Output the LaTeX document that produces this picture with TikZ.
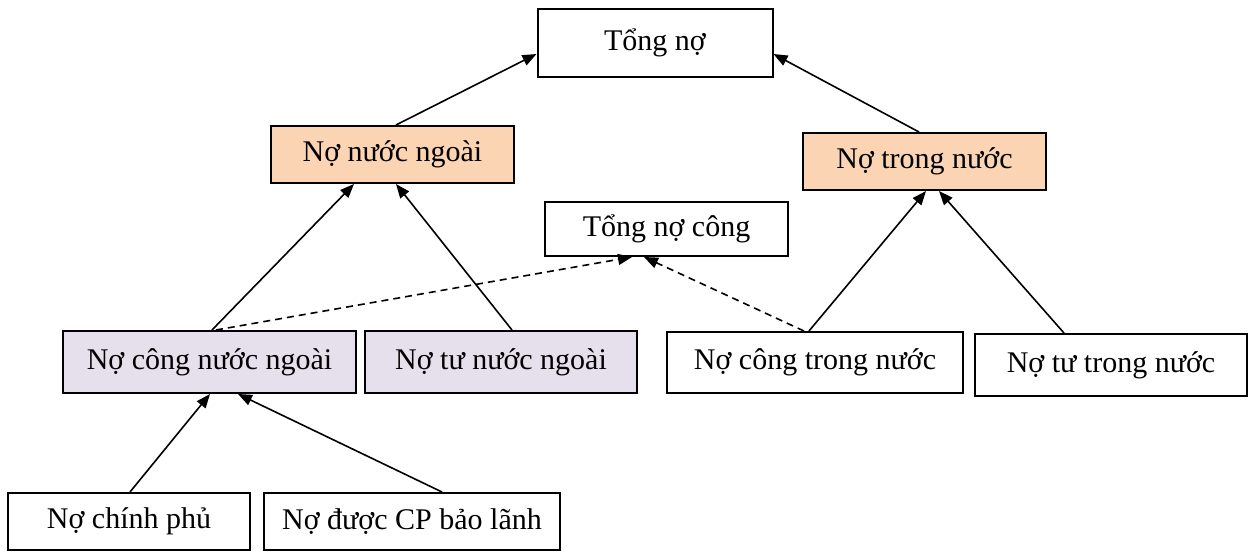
\documentclass[tikz,border=0pt]{standalone}
\usepackage{fontspec}
\setmainfont{Liberation Serif}
\usetikzlibrary{calc,arrows.meta}
\definecolor{orangefill}{HTML}{FBD4B4}
\definecolor{lavfill}{HTML}{E5E0EC}
\tikzset{
  box/.style={draw=black, line width=1pt, rectangle, inner sep=0pt, align=center,
              font=\fontsize{15}{18}\selectfont},
  arr/.style={line width=0.8pt, -{Triangle[length=7pt,width=5.5pt]}},
  darr/.style={arr, dash pattern=on 3.5pt off 2.5pt},
}
\begin{document}
\begin{tikzpicture}[x=0.5pt,y=-0.5pt]
\useasboundingbox (0,0) rectangle (1249,552);
\node[box, minimum width=117.5pt, minimum height=34pt] (tn) at (655,43) {Tổng nợ};
\node[box, fill=orangefill, minimum width=121.5pt, minimum height=28.5pt] (nnn) at (392.5,154.5) {Nợ nước ngoài};
\node[box, fill=orangefill, minimum width=121.5pt, minimum height=28.5pt] (ntn) at (924.5,161.5) {Nợ trong nước};
\node[box, minimum width=121.5pt, minimum height=27pt] (tnc) at (666.5,229) {Tổng nợ công};
\node[box, fill=lavfill, minimum width=146.5pt, minimum height=31pt] (ncnn) at (209.5,362) {Nợ công nước ngoài};
\node[box, fill=lavfill, minimum width=136pt, minimum height=31pt] (ntnn) at (501,362) {Nợ tư nước ngoài};
\node[box, minimum width=148pt, minimum height=30.5pt] (nctn) at (815,362.5) {Nợ công trong nước};
\node[box, minimum width=136pt, minimum height=31pt] (nttn) at (1111,365) {Nợ tư trong nước};
\node[box, minimum width=121pt, minimum height=28.5pt] (ncp) at (129,521.5) {Nợ chính phủ};
\node[box, minimum width=148pt, minimum height=28.5pt] (nbl) at (412,521.5) {Nợ được CP bảo lãnh};

\draw[arr] ($(nnn.north west)+(126,0)$) -- ($(tn.north west)+(0,46)$);
\draw[arr] ($(ntn.north west)+(117,0)$) -- ($(tn.north east)+(0,46)$);
\draw[arr] ($(ncnn.north west)+(150,0)$) -- ($(nnn.south west)+(84,0)$);
\draw[arr] ($(ntnn.north west)+(148,0)$) -- ($(nnn.south west)+(126,0)$);
\draw[darr] ($(ncnn.north west)+(154,0)$) -- ($(tnc.south west)+(88,0)$);
\draw[darr] ($(nctn.north west)+(138,0)$) -- ($(tnc.south west)+(100,0)$);
\draw[arr] ($(nctn.north west)+(143,0)$) -- ($(ntn.south west)+(124,0)$);
\draw[arr] ($(nttn.north west)+(90,0)$) -- ($(ntn.south west)+(137,0)$);
\draw[arr] ($(ncp.north west)+(123,0)$) -- ($(ncnn.south west)+(148,0)$);
\draw[arr] ($(nbl.north west)+(179,0)$) -- ($(ncnn.south west)+(176,0)$);
\end{tikzpicture}
\end{document}
